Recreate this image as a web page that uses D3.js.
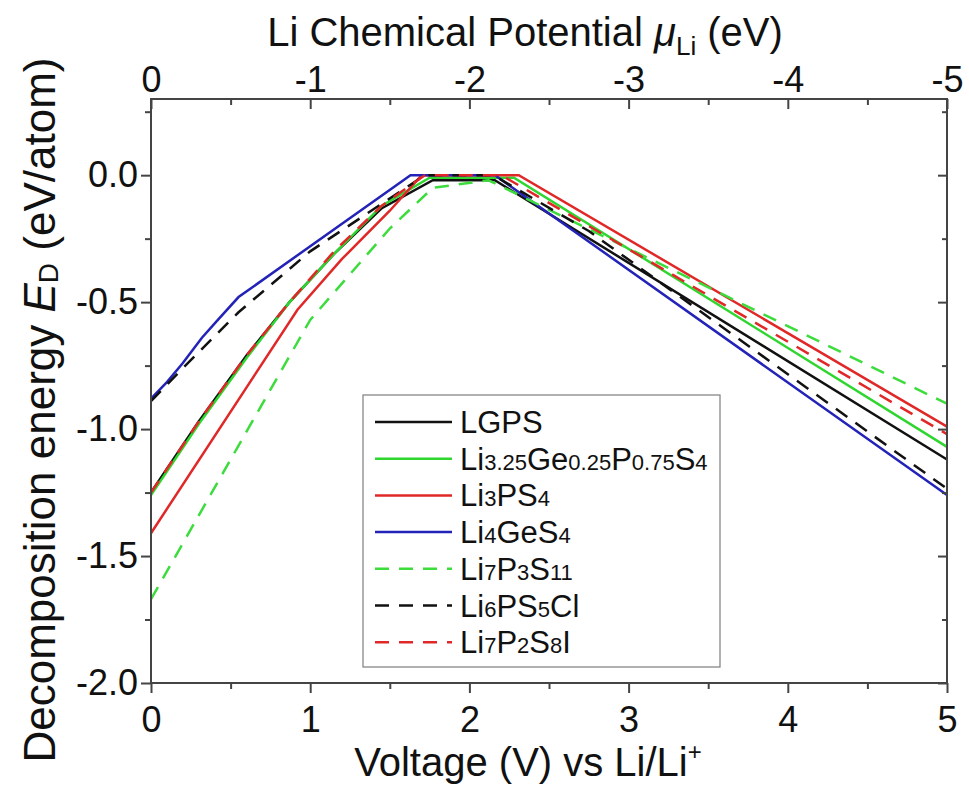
<!DOCTYPE html>
<html>
<head>
<meta charset="utf-8">
<script src="https://d3js.org/d3.v7.min.js"></script>
<style>
  body { margin: 0; background: #fff; }
  svg text { font-family: "Liberation Sans", Arial, sans-serif; fill: #111; }
  .axis path { display: none; }
  .axis line { stroke: #444; stroke-width: 2; }
</style>
</head>
<body>
<svg id="chart" width="969" height="788"></svg>
<script>
// breakpoints: voltage (V vs Li/Li+) and decomposition energy (eV/atom)
var lgpsV = [0, 0.3, 0.6, 0.87, 1.15, 1.45, 1.77, 2.16, 5];
var lgpsE = [-1.25, -0.97, -0.71, -0.5, -0.31, -0.13, -0.02, -0.02, -1.12];
var lgpsGeV = [0, 0.3, 0.6, 0.87, 1.15, 1.45, 1.75, 2.28, 5];
var lgpsGeE = [-1.26, -0.98, -0.72, -0.5, -0.31, -0.12, -0.01, -0.01, -1.07];
var li3psV = [0, 0.92, 1.2, 1.5, 1.7, 2.31, 5];
var li3psE = [-1.41, -0.53, -0.33, -0.14, 0, 0, -0.99];
var li4gesV = [0, 0.1, 0.2, 0.32, 0.42, 0.55, 1.63, 2.16, 5];
var li4gesE = [-0.88, -0.815, -0.74, -0.64, -0.57, -0.48, 0, 0, -1.26];
var li7p3sV = [0, 1.0, 1.25, 1.5, 1.77, 2.12, 5];
var li7p3sE = [-1.67, -0.57, -0.39, -0.21, -0.05, -0.02, -0.90];
var li6psclV = [0, 0.2, 0.55, 1.0, 1.72, 2.15, 2.34, 2.75, 5];
var li6psclE = [-0.89, -0.76, -0.54, -0.3, 0, 0, -0.07, -0.22, -1.235];
var li7p2sV = [0, 0.3, 0.6, 0.87, 1.15, 1.45, 1.72, 2.2, 5];
var li7p2sE = [-1.25, -0.97, -0.71, -0.5, -0.3, -0.12, 0, 0, -1.02];

var names = ["LGPS", "Li3.25Ge0.25P0.75S4", "Li3PS4", "Li4GeS4", "Li7P3S11", "Li6PS5Cl", "Li7P2S8I"];
var colors = ["#111111", "#2fd62f", "#e02828", "#2323b8", "#3ddc3d", "#111111", "#e02828"];
var dashed = [false, false, false, false, true, true, true];
var voltages = [lgpsV, lgpsGeV, li3psV, li4gesV, li7p3sV, li6psclV, li7p2sV];
var energies = [lgpsE, lgpsGeE, li3psE, li4gesE, li7p3sE, li6psclE, li7p2sE];

var xTicks = [0, 1, 2, 3, 4, 5];
var xMinor = [0.5, 1.5, 2.5, 3.5, 4.5];
var muTicks = [0, -1, -2, -3, -4, -5];
var muMinor = [-0.5, -1.5, -2.5, -3.5, -4.5];
var yTicks = [-2, -1.5, -1, -0.5, 0];
var yMinor = [-1.75, -1.25, -0.75, -0.25, 0.25];

(function() {
var pLeft = 151, pRight = 947, pTop = 99, pBottom = 683;
var svg = d3.select("#chart");

var x = d3.scaleLinear().domain([0, 5]).range([pLeft, pRight]);
var xTop = d3.scaleLinear().domain([0, -5]).range([pLeft, pRight]);
var y = d3.scaleLinear().domain([-2, 0.3]).range([pBottom, pTop]);

// data lines
var line = d3.line().x(function(d) { return x(d[0]); }).y(function(d) { return y(d[1]); });
names.forEach(function(n, i) {
  var pts = voltages[i].map(function(v, j) { return [v, energies[i][j]]; });
  svg.append("path")
    .attr("d", line(pts))
    .attr("fill", "none")
    .attr("stroke", colors[i])
    .attr("stroke-width", 2.5)
    .attr("stroke-dasharray", dashed[i] ? "14,10" : null);
});

// axes
function fmtY(d) { return d.toFixed(1); }
svg.append("g").attr("class", "axis").attr("transform", "translate(0," + pBottom + ")")
  .call(d3.axisBottom(x).tickValues(xTicks).tickSize(10).tickPadding(13).tickFormat(function(d) { return d; }))
  .selectAll("text").style("font-size", "36px");
svg.append("g").attr("class", "axis").attr("transform", "translate(0," + pBottom + ")")
  .call(d3.axisBottom(x).tickValues(xMinor).tickSize(6).tickFormat(""));
svg.append("g").attr("class", "axis").attr("transform", "translate(0," + pTop + ")")
  .call(d3.axisTop(xTop).tickValues(muTicks).tickSize(-10).tickPadding(7).tickFormat(function(d) { return d; }))
  .selectAll("text").style("font-size", "36px");
svg.append("g").attr("class", "axis").attr("transform", "translate(0," + pTop + ")")
  .call(d3.axisTop(xTop).tickValues(muMinor).tickSize(-6).tickFormat(""));
svg.append("g").attr("class", "axis").attr("transform", "translate(" + pLeft + ",0)")
  .call(d3.axisLeft(y).tickValues(yTicks).tickSize(10).tickPadding(3).tickFormat(fmtY))
  .selectAll("text").style("font-size", "36px");
svg.append("g").attr("class", "axis").attr("transform", "translate(" + pLeft + ",0)")
  .call(d3.axisLeft(y).tickValues(yMinor).tickSize(6).tickFormat(""));
svg.append("g").attr("class", "axis").attr("transform", "translate(" + pRight + ",0)")
  .call(d3.axisRight(y).tickValues(yTicks).tickSize(-9).tickFormat(""));
svg.append("g").attr("class", "axis").attr("transform", "translate(" + pRight + ",0)")
  .call(d3.axisRight(y).tickValues(yMinor).tickSize(-5).tickFormat(""));

svg.append("rect")
  .attr("x", pLeft).attr("y", pTop).attr("width", pRight - pLeft).attr("height", pBottom - pTop)
  .attr("fill", "none").attr("stroke", "#444").attr("stroke-width", 2);

// titles
var tb = svg.append("text").attr("x", 528).attr("y", 776).attr("text-anchor", "middle").style("font-size", "40px");
tb.append("tspan").text("Voltage (V) vs Li/Li");
tb.append("tspan").attr("dy", -16).style("font-size", "24px").text("+");

var tt = svg.append("text").attr("x", 525).attr("y", 46).attr("text-anchor", "middle").style("font-size", "40px");
tt.append("tspan").text("Li Chemical Potential ");
tt.append("tspan").style("font-style", "italic").text("\u03bc");
tt.append("tspan").attr("dy", 9).style("font-size", "26px").text("Li");
tt.append("tspan").attr("dy", -9).text(" (eV)");

var ty = svg.append("text").attr("transform", "translate(55,410) rotate(-90)")
  .attr("text-anchor", "middle").style("font-size", "44px");
ty.append("tspan").text("Decomposition energy ");
ty.append("tspan").style("font-style", "italic").text("E");
ty.append("tspan").attr("dy", 3).style("font-size", "28px").text("D");
ty.append("tspan").attr("dy", -3).text(" (eV/atom)");

// legend
var lg = svg.append("g");
lg.append("rect").attr("x", 363).attr("y", 395).attr("width", 357).attr("height", 272)
  .attr("fill", "#fff").attr("stroke", "#888").attr("stroke-width", 1.3);
names.forEach(function(n, i) {
  var ly = 422 + i * 36.7;
  lg.append("line").attr("x1", 375).attr("x2", 452).attr("y1", ly).attr("y2", ly)
    .attr("stroke", colors[i]).attr("stroke-width", 2.5)
    .attr("stroke-dasharray", dashed[i] ? "14,10" : null);
  var t = lg.append("text").attr("x", 460).attr("y", ly + 11).style("font-size", "31px");
  n.split(/(\d+(?:\.\d+)?)/).forEach(function(part) {
    if (!part) return;
    var sub = /^\d/.test(part);
    t.append("tspan").style("font-size", sub ? "22px" : "31px").text(part);
  });
});
})();
</script>
</body>
</html>
